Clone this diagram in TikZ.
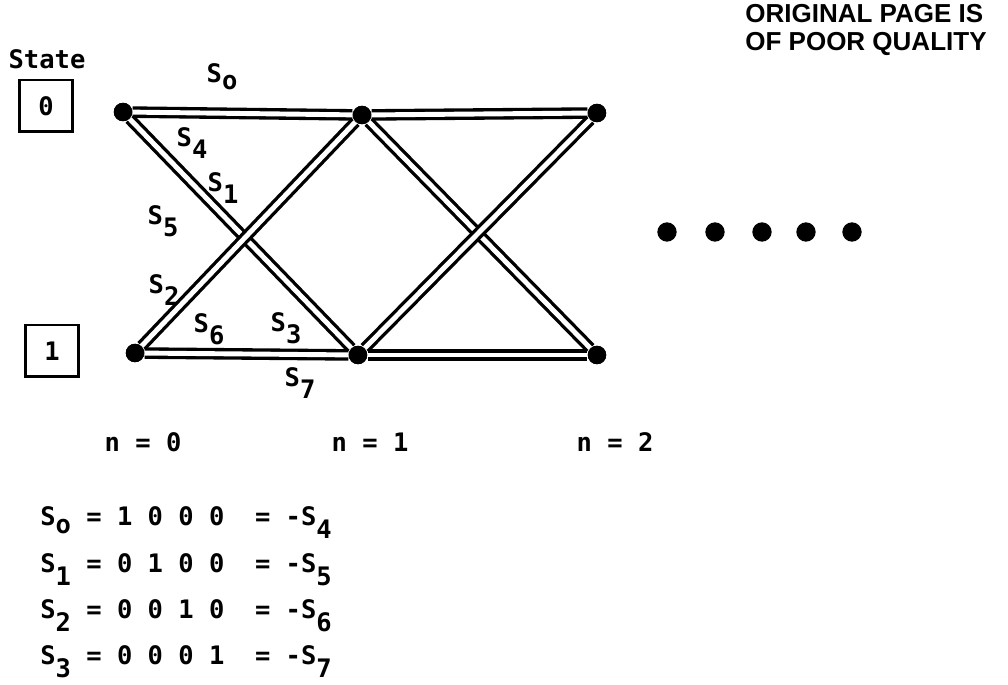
\documentclass[tikz,border=0pt]{standalone}
\usepackage{fontspec}
\setmonofont{DejaVu Sans Mono}
\newfontfamily\stampfont{Liberation Sans}
\usepackage{tikz}

\newcommand\Slab[1]{S\raisebox{-7pt}{#1}}
\newcommand\Solab{S\raisebox{-4pt}{o}}

\begin{document}
\begin{tikzpicture}[
    x=0.02cm, y=-0.02cm,
    every node/.style={font=\ttfamily\bfseries\fontsize{14.5}{14.5}\selectfont},
    dot/.style={circle, fill, inner sep=0pt, minimum size=10.5pt},
    bigdot/.style={circle, fill, inner sep=0pt, minimum size=11pt},
    edge/.style={double, line width=1.9pt, double distance=2.8pt},
    statebox/.style={rectangle, draw, line width=1.7pt, minimum width=1.06cm, minimum height=1.04cm, inner sep=0pt},
    stamp/.style={inner sep=0pt, anchor=west, font=\stampfont\bfseries\fontsize{14.8}{14.8}\selectfont},
    lbl/.style={inner sep=0pt}
]
    \useasboundingbox (0,0) rectangle (1008,685);

    % trellis states
    \node[dot] (t0) at (123,112) {};
    \node[dot] (t1) at (362,115) {};
    \node[dot] (t2) at (597,113) {};
    \node[dot] (b0) at (135,353) {};
    \node[dot] (b1) at (358,355) {};
    \node[dot] (b2) at (597,355) {};

    \draw[edge] (t0) -- (b1);
    \draw[edge] (b0) -- (t1);
    \draw[edge] (t1) -- (b2);
    \draw[edge] (b1) -- (t2);
    \draw[edge] (t0) -- (t1);
    \draw[edge] (t1) -- (t2);
    \draw[edge] (b0) -- (b1);
    \draw[edge] (b1) -- (b2);
    \foreach \n in {t0,t1,t2,b0,b1,b2} \node[dot] at (\n) {};

    % state boxes
    \node[lbl] (state) at (47,59) {State};
    \node[statebox] (s0) at (46,106) {0};
    \node[statebox] (s1) at (52,351) {1};

    % branch labels
    \node[lbl] (l0) at (222,77) {\Solab};
    \node[lbl] (l4) at (192,143) {\Slab{4}};
    \node[lbl] (l1) at (223,188) {\Slab{1}};
    \node[lbl] (l5) at (163,221) {\Slab{5}};
    \node[lbl] (l2) at (164,290) {\Slab{2}};
    \node[lbl] (l6) at (209,329) {\Slab{6}};
    \node[lbl] (l3) at (286,328) {\Slab{3}};
    \node[lbl] (l7) at (300,383) {\Slab{7}};

    % time steps
    \node[lbl] (n0) at (143,442) {n = 0};
    \node[lbl] (n1) at (370,442) {n = 1};
    \node[lbl] (n2) at (615,442) {n = 2};

    \foreach \x [count=\i] in {667,715,762,806,852}
        \node[bigdot] (e\i) at (\x,232) {};

    % signal table
    \node[lbl, anchor=base west] (q0) at (40,526) {\Solab~=~1~0~0~0~~=~-\Slab{4}};
    \node[lbl, anchor=base west] (q1) at (40,573) {\Slab{1}~=~0~1~0~0~~=~-\Slab{5}};
    \node[lbl, anchor=base west] (q2) at (40,619) {\Slab{2}~=~0~0~1~0~~=~-\Slab{6}};
    \node[lbl, anchor=base west] (q3) at (40,665) {\Slab{3}~=~0~0~0~1~~=~-\Slab{7}};

    % stamp
    \node[stamp] (st1) at (745,14) {ORIGINAL PAGE IS};
    \node[stamp] (st2) at (745,44) {OF POOR QUALITY};
\end{tikzpicture}
\end{document}
